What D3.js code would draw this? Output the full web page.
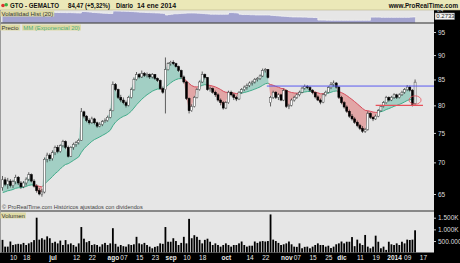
<!DOCTYPE html>
<html>
<head>
<meta charset="utf-8">
<script src="https://cdn.jsdelivr.net/npm/d3@7"></script>
<style>
body { margin: 0; background: #fff; }
svg text { font-family: "Liberation Sans", Arial, sans-serif; }
</style>
</head>
<body>
<div id="chart"></div>
<script>
// daily bars, 4 jun 2013 -> 14 ene 2014 (index = trading day)
var opens = [66.0,67.2,66.5,67.0,66.3,66.9,67.6,66.7,66.1,66.7,
 67.3,68.0,67.0,66.2,65.5,65.0,65.3,70.5,71.2,70.6,
 71.6,72.5,71.8,72.8,73.5,72.5,71.0,72.5,73.0,73.3,
 73.7,78.8,78.0,77.2,76.8,77.5,76.8,76.2,76.5,77.0,
 77.2,77.8,79.0,84.0,83.0,81.5,81.0,80.5,80.0,81.5,
 83.0,85.0,86.0,85.5,86.2,85.8,86.0,85.5,86.0,85.2,
 84.8,83.2,83.0,87.0,88.2,88.5,88.2,87.6,86.8,85.5,
 84.5,81.3,79.0,79.8,81.5,83.0,84.5,86.0,85.4,83.0,
 83.2,82.5,82.0,81.0,80.5,79.5,80.5,82.5,82.0,81.5,
 81.2,82.5,83.0,83.5,83.8,84.3,84.5,85.0,85.2,85.7,
 86.8,87.0,80.5,81.5,82.5,81.5,82.0,81.0,82.8,79.8,
 80.0,81.0,81.5,82.0,82.5,83.3,83.6,83.4,82.9,82.4,
 81.6,81.0,80.6,82.0,82.5,83.4,84.0,84.3,83.5,81.5,
 80.5,79.7,78.9,78.0,77.5,76.9,76.3,75.8,75.3,75.6,
 78.5,77.8,77.5,78.0,79.0,79.8,80.5,81.5,81.0,81.5,
 82.0,81.5,82.0,82.5,83.0,83.5,82.9,80.3];
var highs = [67.8,67.6,67.5,67.3,67.2,68.0,67.8,67.0,67.0,67.6,
 68.4,68.2,67.3,66.5,65.9,65.8,70.8,71.6,71.5,72.0,
 72.8,72.9,73.0,73.8,73.7,72.8,72.7,73.3,73.6,74.0,
 79.5,79.0,78.2,77.6,77.9,77.7,77.0,76.9,77.3,77.6,
 78.1,79.4,84.6,84.3,83.2,82.0,81.5,80.9,81.8,83.4,
 85.4,86.5,86.3,86.8,86.5,86.4,86.2,86.3,86.1,85.4,
 85.0,83.6,89.5,88.5,88.8,88.9,88.4,87.8,87.0,85.8,
 84.7,81.5,80.2,81.8,83.3,84.8,86.6,86.2,85.5,83.6,
 83.4,82.8,82.3,81.3,80.8,80.8,82.8,82.8,82.3,81.8,
 82.7,83.3,83.8,84.2,84.6,84.8,85.3,85.5,86.0,87.2,
 87.3,87.1,81.8,82.8,82.7,82.3,82.2,83.2,83.0,80.3,
 81.3,81.8,82.3,82.8,83.6,84.0,83.9,83.7,83.1,82.6,
 81.9,81.3,82.3,82.8,83.7,84.5,84.8,84.5,83.7,81.8,
 80.8,80.0,79.2,78.4,77.8,77.2,76.6,76.2,75.9,78.9,
 78.7,78.0,78.3,79.3,80.1,80.8,81.8,81.7,81.8,82.3,
 82.2,82.3,82.8,83.3,83.9,83.8,83.1,85.0];
var lows = [65.5,66.2,65.8,66.0,65.9,66.5,66.4,65.8,65.9,66.3,
 67.0,66.8,66.0,65.2,64.8,64.6,65.1,70.0,70.2,70.3,
 71.2,71.5,71.6,72.5,72.2,70.8,70.9,72.1,72.6,73.0,
 73.6,77.6,76.9,76.5,76.6,76.5,75.9,76.0,76.2,76.8,
 77.0,77.6,78.9,82.7,81.2,80.6,80.2,79.6,79.8,81.3,
 82.8,84.8,85.2,85.3,85.5,85.4,85.1,85.2,84.9,84.5,
 83.0,82.2,78.5,86.8,87.8,87.9,87.4,86.5,85.2,84.2,
 81.0,78.5,78.8,79.6,81.3,82.8,84.3,85.0,82.8,82.6,
 82.2,81.6,80.7,80.0,79.2,79.3,80.3,81.7,81.0,80.8,
 81.0,82.2,82.7,83.0,83.5,83.8,84.2,84.6,84.9,85.5,
 86.4,85.2,79.8,81.2,81.2,81.0,80.8,80.8,79.5,79.3,
 79.8,80.7,81.2,81.7,82.3,83.0,83.1,82.6,82.1,81.3,
 80.8,80.2,80.4,81.7,82.3,83.1,83.6,83.2,81.2,80.2,
 79.4,78.6,77.7,77.2,76.6,76.0,75.5,75.0,75.0,75.4,
 77.5,77.1,77.3,77.8,78.8,79.6,80.3,80.7,80.8,81.2,
 81.2,81.3,81.8,82.2,82.7,82.6,79.8,80.1];
var closes = [67.2,66.5,67.0,66.3,66.9,67.6,66.7,66.1,66.7,67.3,
 68.0,67.0,66.2,65.5,65.0,65.3,70.5,71.2,70.6,71.6,
 72.5,71.8,72.8,73.5,72.5,71.0,72.5,73.0,73.3,73.7,
 78.8,78.0,77.2,76.8,77.5,76.8,76.2,76.5,77.0,77.2,
 77.8,79.0,84.0,83.0,81.5,81.0,80.5,80.0,81.5,83.0,
 85.0,86.0,85.5,86.2,85.8,86.0,85.5,86.0,85.2,84.8,
 83.2,82.5,87.0,88.2,88.5,88.2,87.6,86.8,85.5,84.5,
 81.3,79.0,79.8,81.5,83.0,84.5,86.0,85.4,83.0,83.2,
 82.5,82.0,81.0,80.5,79.5,80.5,82.5,82.0,81.5,81.2,
 82.5,83.0,83.5,83.8,84.3,84.5,85.0,85.2,85.7,86.8,
 87.0,85.4,81.5,82.5,81.5,82.0,81.0,82.8,79.8,80.0,
 81.0,81.5,82.0,82.5,83.3,83.6,83.4,82.9,82.4,81.6,
 81.0,80.6,82.0,82.5,83.4,84.0,84.3,83.5,81.5,80.5,
 79.7,78.9,78.0,77.5,76.9,76.3,75.8,75.3,75.6,78.5,
 77.8,77.5,78.0,79.0,79.8,80.5,81.5,81.0,81.5,82.0,
 81.5,82.0,82.5,83.0,83.5,82.9,80.2,84.47];
// volume, thousands of shares
var volumes = [550,260,260,480,330,360,380,360,420,330,
 400,450,540,1500,560,620,560,700,620,420,
 470,400,520,330,540,360,400,330,260,400,
 1100,600,450,500,330,360,330,260,360,420,
 330,400,1050,380,260,330,280,260,360,330,
 360,680,400,360,420,330,260,190,250,280,
 400,380,1100,470,470,620,500,330,420,680,
 400,1450,620,750,680,550,400,550,600,470,
 330,400,330,260,330,400,330,260,330,330,
 400,480,330,260,300,300,480,420,480,500,
 480,500,1640,560,500,420,330,360,400,480,
 360,260,250,400,190,250,260,190,260,330,
 400,330,330,260,300,200,260,360,400,480,
 400,470,470,670,280,560,400,330,760,260,
 190,260,730,470,190,260,120,470,360,330,
 400,330,470,400,560,545,560,960];
// historical volatility (20)
var volat = [0.36,0.36,0.355,0.355,0.35,0.35,0.35,0.35,0.348,0.345,
 0.345,0.342,0.34,0.338,0.336,0.335,0.335,0.375,0.372,0.37,
 0.365,0.362,0.36,0.36,0.358,0.36,0.358,0.355,0.352,0.35,
 0.388,0.385,0.38,0.372,0.365,0.36,0.355,0.35,0.345,0.342,
 0.338,0.336,0.40,0.40,0.398,0.395,0.395,0.392,0.39,0.385,
 0.38,0.375,0.37,0.368,0.365,0.36,0.358,0.355,0.352,0.35,
 0.345,0.34,0.30,0.31,0.32,0.33,0.33,0.335,0.34,0.345,
 0.35,0.35,0.35,0.348,0.345,0.34,0.335,0.33,0.325,0.32,
 0.32,0.32,0.318,0.318,0.318,0.32,0.36,0.36,0.355,0.35,
 0.32,0.31,0.31,0.31,0.305,0.305,0.30,0.30,0.30,0.30,
 0.30,0.30,0.29,0.285,0.28,0.275,0.27,0.265,0.26,0.255,
 0.25,0.25,0.248,0.248,0.245,0.245,0.24,0.24,0.235,0.235,
 0.17,0.17,0.17,0.168,0.168,0.165,0.165,0.165,0.165,0.165,
 0.165,0.165,0.165,0.165,0.165,0.165,0.165,0.165,0.165,0.165,
 0.245,0.245,0.245,0.245,0.24,0.24,0.24,0.24,0.24,0.24,
 0.24,0.24,0.24,0.24,0.24,0.245,0.25,0.2733];
var emaStart = 65.0;

var xTicks = [4,9,19,28,34,42,46,52,58,64,70,76,85,94,100,108,112,118,124,129,136,142,149,154,160];
var xLabels = ["10","18","jul","12","22","ago","07","15","23","sep","10","18","oct","14","22","nov","07","15","25","dic","11","19","2014","09","17"];
var monthLabels = ["jul","ago","sep","oct","nov","dic","2014"];
var priceTicks = [95,90,85,80,75,70,65];
var volTicks = [1500,1000,500];
var volTickLabels = ["1.500K","1.000K","500.000"];
var volatTicks = [0.4];
var lastVolat = "0.2733";

// annotations drawn on the chart (price levels / bar index)
var blueLine = {price: 83.7, from: 100.6, to: 164.2};
var redLine = {price: 80.0, from: 142, to: 160};
var redCircle = {index: 157, price: 81.0};

var W = 460, H = 263, plotW = 434;

var svg = d3.select("#chart").append("svg")
    .attr("width", W)
    .attr("height", H)

var x = d3.scaleLinear().domain([-0.95, 164.2]).range([0, plotW]);
var y = d3.scaleLog().domain([65, 95]).range([194, 32]);
var yV = d3.scaleLinear().domain([0, 1500]).range([252.7, 217.7]);
var yH = d3.scaleLinear().domain([0.2733, 0.4]).range([16, 11]);

// backgrounds
svg.append("rect").attr("width", W).attr("height", H).attr("fill", "#e6e6e6");
svg.append("rect").attr("x", plotW).attr("y", 10).attr("width", W - plotW).attr("height", H - 10).attr("fill", "#000");
svg.append("rect").attr("x", 0).attr("y", 252.5).attr("width", W).attr("height", H - 252.5).attr("fill", "#000");
svg.append("rect").attr("width", W).attr("height", 10).attr("fill", "#ebe8b8");
svg.append("line").attr("x1", 0).attr("x2", W).attr("y1", 10).attr("y2", 10).attr("stroke", "#b8b48a").attr("stroke-width", 0.6);

var defs = svg.append("defs");
function clip(id, y0, y1) {
    defs.append("clipPath").attr("id", id).append("rect")
	.attr("x", 0).attr("y", y0).attr("width", plotW).attr("height", y1 - y0);
}
clip("cVolat", 10.5, 22.7);
clip("cPrice", 23.5, 210.8);
clip("cVol", 211.5, 252.5);

// ---- volatility panel
var gH = svg.append("g").attr("clip-path", "url(#cVolat)");
gH.append("path")
    .datum(volat)
    .attr("d", d3.area().x(function(d, i) { return x(i); }).y0(23).y1(function(d) { return yH(d); }).curve(d3.curveStepAfter))
    .attr("fill", "#a3a3cf");
gH.append("path")
    .datum(volat)
    .attr("d", d3.line().x(function(d, i) { return x(i); }).y(function(d) { return yH(d); }).curve(d3.curveStepAfter))
    .attr("fill", "none").attr("stroke", "#f4f4f4").attr("stroke-width", 0.8);

// ---- price panel
var ema = [];
var prev = emaStart;
closes.forEach(function(c) {
    prev = prev + (2 / 21) * (c - prev);
    ema.push(prev);
});
var bars = closes.map(function(c, i) {
    return {i: i, o: opens[i], h: highs[i], l: lows[i], c: c, e: ema[i], v: volumes[i]};
});

var gP = svg.append("g").attr("clip-path", "url(#cPrice)");

// clip regions split by the EMA line and by the close line
defs.append("clipPath").attr("id", "aboveEma").append("path")
    .attr("d", d3.area().x(function(d) { return x(d.i); }).y0(0).y1(function(d) { return y(d.e); })(bars));
defs.append("clipPath").attr("id", "belowEma").append("path")
    .attr("d", d3.area().x(function(d) { return x(d.i); }).y0(260).y1(function(d) { return y(d.e); })(bars));
defs.append("clipPath").attr("id", "aboveClose").append("path")
    .attr("d", d3.area().x(function(d) { return x(d.i); }).y0(0).y1(function(d) { return y(d.c); })(bars));
defs.append("clipPath").attr("id", "belowClose").append("path")
    .attr("d", d3.area().x(function(d) { return x(d.i); }).y0(260).y1(function(d) { return y(d.c); })(bars));

var band = d3.area().x(function(d) { return x(d.i); })
    .y0(function(d) { return y(d.e); })
    .y1(function(d) { return y(d.c); });
gP.append("g").attr("clip-path", "url(#aboveEma)").append("path")
    .datum(bars).attr("d", band).attr("fill", "#a2cfc4");
gP.append("g").attr("clip-path", "url(#belowEma)").append("path")
    .datum(bars).attr("d", band).attr("fill", "#e2a6a6");

var emaLine = d3.line().x(function(d) { return x(d.i); }).y(function(d) { return y(d.e); });
gP.append("g").attr("clip-path", "url(#belowClose)").append("path")
    .datum(bars).attr("d", emaLine).attr("fill", "none").attr("stroke", "#3fae8c").attr("stroke-width", 1);
gP.append("g").attr("clip-path", "url(#aboveClose)").append("path")
    .datum(bars).attr("d", emaLine).attr("fill", "none").attr("stroke", "#d84a5a").attr("stroke-width", 1);

// candles
var candle = gP.append("g").selectAll("g").data(bars).enter().append("g");
candle.append("line")
    .attr("x1", function(d) { return x(d.i); })
    .attr("x2", function(d) { return x(d.i); })
    .attr("y1", function(d) { return y(d.h); })
    .attr("y2", function(d) { return y(d.l); })
    .attr("stroke", "#222").attr("stroke-width", 0.7);
candle.append("rect")
    .attr("x", function(d) { return x(d.i) - 1; })
    .attr("y", function(d) { return y(Math.max(d.o, d.c)); })
    .attr("width", 2)
    .attr("height", function(d) { return Math.max(0.8, Math.abs(y(d.o) - y(d.c))); })
    .attr("fill", function(d) { return d.c >= d.o ? "#fff" : "#000"; })
    .attr("stroke", function(d) { return d.c >= d.o ? "#444" : "#000"; })
    .attr("stroke-width", 0.5);

// annotations
gP.append("line")
    .attr("x1", x(blueLine.from)).attr("x2", x(blueLine.to))
    .attr("y1", y(blueLine.price)).attr("y2", y(blueLine.price))
    .attr("stroke", "#5a5af0").attr("stroke-width", 1);
gP.append("line")
    .attr("x1", x(redLine.from)).attr("x2", x(redLine.to))
    .attr("y1", y(redLine.price)).attr("y2", y(redLine.price))
    .attr("stroke", "#e8505a").attr("stroke-width", 1.2);
gP.append("ellipse")
    .attr("cx", x(redCircle.index)).attr("cy", y(redCircle.price))
    .attr("rx", 6).attr("ry", 4.2)
    .attr("fill", "none").attr("stroke", "#e8505a").attr("stroke-width", 0.8);

// ---- volume panel
svg.append("g").attr("clip-path", "url(#cVol)")
    .selectAll("rect").data(bars).enter().append("rect")
    .attr("x", function(d) { return x(d.i) - 0.9; })
    .attr("y", function(d) { return yV(d.v); })
    .attr("width", 1.8)
    .attr("height", function(d) { return yV(0) - yV(d.v); })
    .attr("fill", "#000");

// panel separators
[23, 211].forEach(function(yy) {
    svg.append("line").attr("x1", 0).attr("x2", plotW).attr("y1", yy).attr("y2", yy)
	.attr("stroke", "#2a2a2a").attr("stroke-width", 1.2);
});
svg.append("line").attr("x1", 0.5).attr("x2", 0.5).attr("y1", 10).attr("y2", 252.5)
    .attr("stroke", "#9a9a9a").attr("stroke-width", 1);

// ---- axes (right side)
var axP = svg.append("g").attr("transform", "translate(" + plotW + ",0)")
    .call(d3.axisRight(y).tickValues(priceTicks).tickSize(2).tickPadding(2).tickFormat(d3.format("d")));
var axV = svg.append("g").attr("transform", "translate(" + plotW + ",0)")
    .call(d3.axisRight(yV).tickValues(volTicks).tickSize(2).tickPadding(2)
	  .tickFormat(function(d, i) { return volTickLabels[i]; }));
[axP, axV].forEach(function(a) {
    a.select(".domain").remove();
    a.selectAll("line").attr("stroke", "#ccc");
    a.selectAll("text").attr("fill", "#ddd").attr("font-size", 6.5).attr("font-family", "Liberation Sans, Arial");
});

// volatility scale: top tick and last-value box
svg.append("text").attr("x", plotW + 3).attr("y", yH(volatTicks[0]) + 1).attr("font-size", 4.5)
    .attr("fill", "#ddd").text(volatTicks[0]);
var vbox = svg.append("g").attr("transform", "translate(" + (plotW + 1) + "," + yH(0.2733) + ")");
vbox.append("rect").attr("x", 0).attr("y", -3).attr("width", 19.5).attr("height", 6.6)
    .attr("fill", "#f4f4f4").attr("stroke", "#888").attr("stroke-width", 0.5);
vbox.append("text").attr("x", 1.3).attr("y", 2.3).attr("font-size", 6).attr("fill", "#222").text(lastVolat);

// ---- bottom date axis
var axX = svg.append("g").attr("transform", "translate(0,252.5)")
    .call(d3.axisBottom(x).tickValues(xTicks).tickSize(0).tickPadding(3)
	  .tickFormat(function(d, i) { return xLabels[i]; }));
axX.select(".domain").remove();
axX.selectAll("text")
    .attr("fill", "#e8e8e8").attr("font-size", 6.5).attr("font-family", "Liberation Sans, Arial")
    .attr("font-weight", function(d, i) { return monthLabels.indexOf(xLabels[i]) >= 0 ? "bold" : "normal"; });

// ---- labels
function tag(xx, yy, txt, color) {
    var t = svg.append("text").attr("x", xx + 1).attr("y", yy).attr("font-size", 6)
	.attr("fill", color || "#333").text(txt);
    var bb = t.node().getBBox();
    svg.insert("rect", function() { return t.node(); })
	.attr("x", bb.x - 1).attr("y", bb.y).attr("width", bb.width + 2).attr("height", bb.height)
	.attr("fill", "#dedaa5");
    return bb.x + bb.width + 2;
}
tag(0.5, 15.5, "Volatilidad Hist (20)");
var nx = tag(0.5, 29.5, "Precio");
tag(nx + 1, 29.5, "MM (Exponencial 20)", "#4fae7e");
tag(0.5, 217.5, "Volumen");

svg.append("text").attr("x", 2).attr("y", 209).attr("font-size", 5.6).attr("fill", "#444")
    .text("\u00a9 ProRealTime.com Hist\u00f3ricos ajustados con dividendos");

// header
svg.append("circle").attr("cx", 3).attr("cy", 5.5).attr("r", 1.8).attr("fill", "#e03030");
svg.append("circle").attr("cx", 6.2).attr("cy", 4.8).attr("r", 1.8).attr("fill", "#3cb043");
var head = svg.append("g").attr("font-size", 6.8).attr("font-weight", "bold").attr("fill", "#111");
[["GTO - GEMALTO", 10, 49], ["84,47 (+5,32%)", 68, 42], ["Diario", 116, 17], ["14 ene 2014", 137, 39]]
    .forEach(function(h) {
	head.append("text").attr("x", h[1]).attr("y", 7.6)
	    .attr("textLength", h[2]).attr("lengthAdjust", "spacingAndGlyphs").text(h[0]);
    });
head.append("text").attr("x", 458).attr("y", 7.6).attr("text-anchor", "end")
    .attr("font-size", 6.3).text("www.ProRealTime.com");
</script>
</body>
</html>
